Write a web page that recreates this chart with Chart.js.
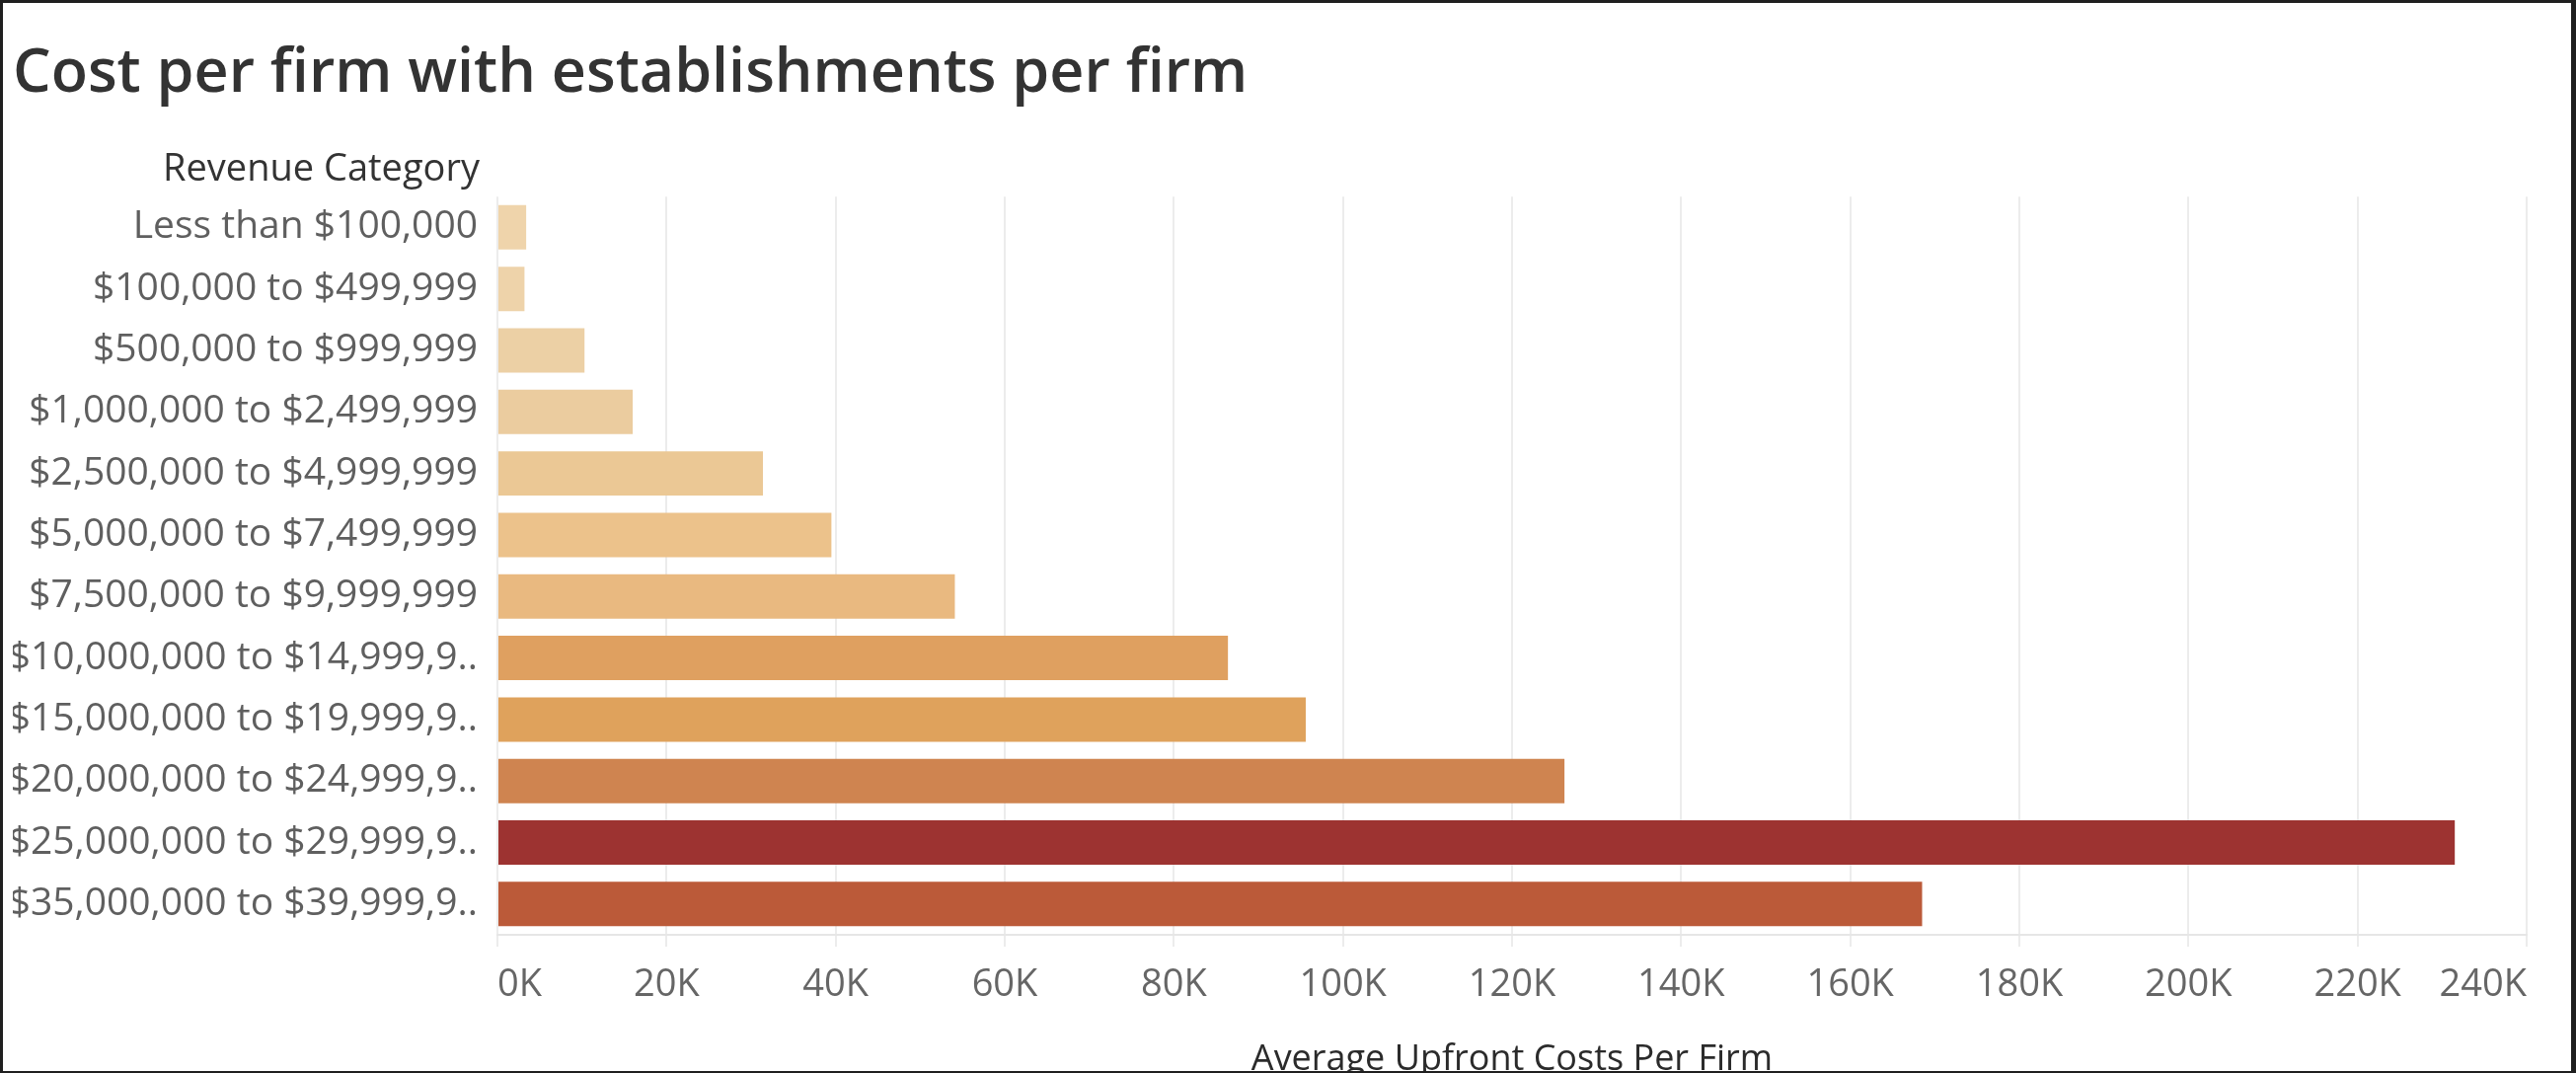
<!DOCTYPE html>
<html>
<head>
<meta charset="utf-8">
<title>Cost per firm with establishments per firm</title>
<script src="https://cdn.jsdelivr.net/npm/chart.js@4.4.1/dist/chart.umd.min.js"></script>
<style>
    html, body { margin: 0; padding: 0; background: #fff; }
    #wrap { position: relative; width: 2610px; height: 1087px; }
    #frame {
        position: absolute; left: 0; top: 0; width: 2610px; height: 1087px;
        box-sizing: border-box; pointer-events: none;
        border-style: solid; border-color: #1f1f1f;
        border-width: 3px 5px 2px 3px;
    }
</style>
</head>
<body>
<div id="wrap">
    <canvas id="costChart"></canvas>
    <div id="frame"></div>
</div>

<script>
// categories (labels as shown, long ones are cut off in the original)
const categories = [
    'Less than $100,000',
    '$100,000 to $499,999',
    '$500,000 to $999,999',
    '$1,000,000 to $2,499,999',
    '$2,500,000 to $4,999,999',
    '$5,000,000 to $7,499,999',
    '$7,500,000 to $9,999,999',
    '$10,000,000 to $14,999,9..',
    '$15,000,000 to $19,999,9..',
    '$20,000,000 to $24,999,9..',
    '$25,000,000 to $29,999,9..',
    '$35,000,000 to $39,999,9..'
];

// average upfront costs per firm
const avgCosts = [3400, 3200, 10300, 16000, 31400, 39500, 54100, 86400, 95600, 126200, 231500, 168500];

// x axis ticks
const tickValues = [0, 20000, 40000, 60000, 80000, 100000, 120000, 140000, 160000, 180000, 200000, 220000, 240000];

// bar colours (sequential orange shading)
const barColors = ['#efd4ab', '#eed3aa', '#ecd0a5', '#ebcc9f', '#ebc895', '#ecc28b', '#e9b980',
                   '#dfa060', '#dfa25c', '#cf8450', '#9d3331', '#bb5a39'];

const headerLabel = 'Revenue Category';

// "Revenue Category" header above the row labels
const headerPlugin = {
    id: 'rowHeader',
    afterDraw(chart) {
        const ctx = chart.ctx;
        const y = chart.scales.y;
        ctx.save();
        ctx.font = '500 38px "Open Sans"';
        ctx.fillStyle = '#333333';
        ctx.textAlign = 'right';
        ctx.textBaseline = 'middle';
        ctx.fillText(headerLabel, y.right - 18, 172);
        ctx.restore();
    }
};

const ctx = document.getElementById('costChart').getContext('2d');

const chart = new Chart(ctx, {
    type: 'bar',
    data: {
        labels: categories,
        datasets: [{
            label: 'Average Upfront Costs Per Firm',
            data: avgCosts,
            backgroundColor: barColors,
            borderWidth: 0,
            barPercentage: 0.722,
            categoryPercentage: 1
        }]
    },
    options: {
        indexAxis: 'y',
        responsive: true,
        maintainAspectRatio: false,
        animation: false,
        layout: { padding: { left: 13, right: 50, top: 0, bottom: 0 } },
        plugins: {
            legend: { display: false },
            tooltip: { enabled: false },
            title: {
                display: true,
                text: 'Cost per firm with establishments per firm',
                align: 'start',
                color: '#333333',
                font: { family: '"Open Sans"', size: 61, weight: '600' },
                padding: { top: 39, bottom: 87 }
            }
        },
        scales: {
            x: {
                min: 0,
                max: 240000,
                afterBuildTicks: (scale) => { scale.ticks = tickValues.map(v => ({ value: v })); },
                afterFit: (scale) => { scale.height = 140; },
                grid: { color: '#ececec', lineWidth: 2, tickLength: 12, drawOnChartArea: true },
                border: { display: true, color: '#e6e6e6', width: 2 },
                ticks: {
                    align: 'inner',
                    padding: 16,
                    color: '#666666',
                    font: { family: '"Open Sans"', size: 38 },
                    callback: (v) => (v / 1000) + 'K'
                },
                title: {
                    display: true,
                    text: 'Average Upfront Costs Per Firm',
                    color: '#2b2b2b',
                    font: { family: '"Open Sans"', size: 36, weight: '500' },
                    padding: { top: 0, bottom: -8 }
                }
            },
            y: {
                afterFit: (scale) => { scale.width = 491; },
                grid: { display: false },
                border: { display: false },
                ticks: {
                    padding: 12,
                    color: '#5f5f5f',
                    font: { family: '"Open Sans"', size: 39 }
                }
            }
        }
    },
    plugins: [headerPlugin]
});
</script>
</body>
</html>
